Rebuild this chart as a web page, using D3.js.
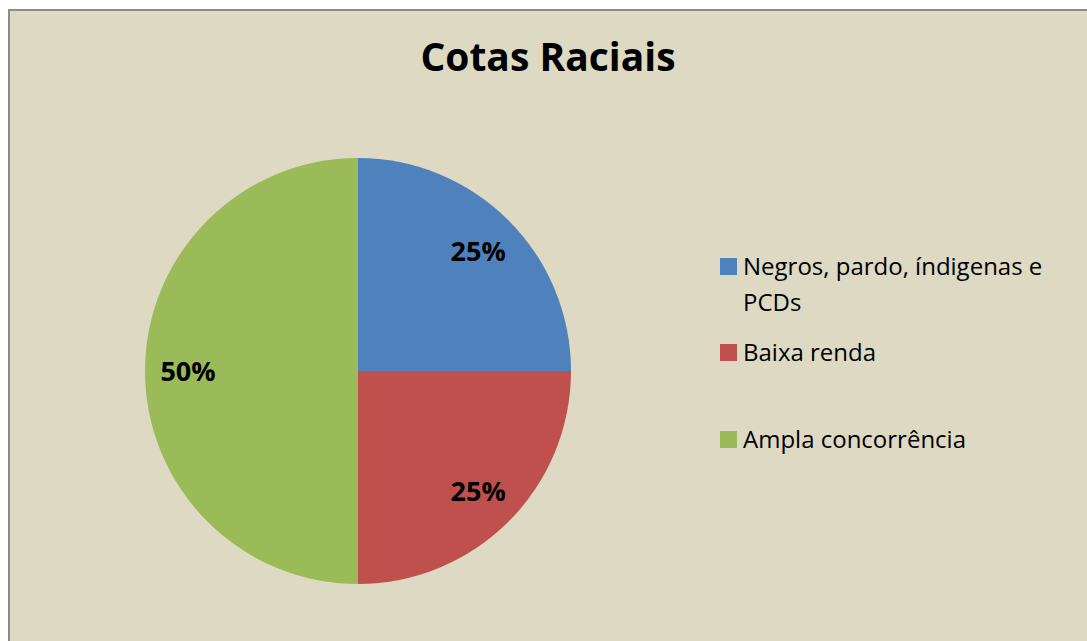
<!DOCTYPE html>
<html>
<head>
<meta charset="utf-8">
<script src="https://d3js.org/d3.v7.min.js"></script>
<style>
  body { margin: 0; background: #fff; font-family: "Open Sans", Lato, sans-serif; }
</style>
</head>
<body>
<script>
const categories = ['Negros, pardo, índigenas e PCDs', 'Baixa renda', 'Ampla concorrência'];
const values = [25, 25, 50];
const colors = ['#4F81BD', '#C0504D', '#9BBB59'];
const legendLines = [['Negros, pardo, índigenas e', 'PCDs'], ['Baixa renda'], ['Ampla concorrência']];

const width = 1087, height = 641;
const svg = d3.select('body').append('svg').attr('width', width).attr('height', height);

// chart area frame
svg.append('rect')
  .attr('x', 9).attr('y', 10)
  .attr('width', width + 10).attr('height', height + 10)
  .attr('fill', '#DDD9C3')
  .attr('stroke', '#8c8c8c').attr('stroke-width', 2);

svg.append('text')
  .attr('x', 548).attr('y', 71)
  .attr('text-anchor', 'middle')
  .attr('font-size', 39).attr('font-weight', 'bold')
  .text('Cotas Raciais');

const cx = 358, cy = 371, r = 213;
const pie = d3.pie().sort(null).value(d => d.v);
const arcs = pie(values.map((v, i) => ({ v, i })));
const arc = d3.arc().innerRadius(0).outerRadius(r);
const labelArc = d3.arc().innerRadius(170).outerRadius(170);

const g = svg.append('g').attr('transform', `translate(${cx},${cy})`);
g.selectAll('path').data(arcs).join('path')
  .attr('d', arc)
  .attr('fill', d => colors[d.data.i]);

g.selectAll('text').data(arcs).join('text')
  .attr('transform', d => `translate(${labelArc.centroid(d)})`)
  .attr('text-anchor', 'middle')
  .attr('dy', '0.36em')
  .attr('font-size', 27).attr('font-weight', 'bold')
  .text(d => Math.round(d.data.v / d3.sum(values) * 100) + '%');

// legend
const legendY = [275, 361, 448];
const lg = svg.append('g');
categories.forEach((c, i) => {
  const item = lg.append('g').attr('transform', `translate(720,${legendY[i]})`);
  item.append('rect')
    .attr('x', 0).attr('y', -17)
    .attr('width', 17).attr('height', 17)
    .attr('fill', colors[i]);
  const t = item.append('text').attr('x', 23).attr('font-size', 24).attr('fill', '#000');
  legendLines[i].forEach((line, j) => {
    t.append('tspan').attr('x', 23).attr('dy', j === 0 ? 0 : 36).text(line);
  });
});
</script>
</body>
</html>
